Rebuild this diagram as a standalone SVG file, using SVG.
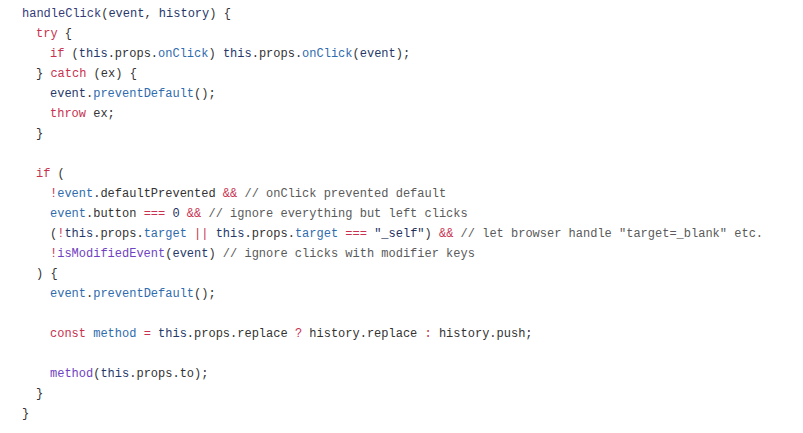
<svg xmlns="http://www.w3.org/2000/svg" width="803" height="433" viewBox="0 0 803 433">
<style>
text{font-family:"Liberation Mono","DejaVu Sans Mono",monospace;font-size:12px;fill:#333;white-space:pre}
.k{fill:#c8314f}.b{fill:#2f6cad}.n{fill:#26386a}.f{fill:#6f42c1}.c{fill:#5a5a5a}.s{fill:#1f3160}.fn{fill:#363a78}
</style>
<rect width="803" height="433" fill="#ffffff"/>
<g id="code" xml:space="preserve">
<text x="22" y="17"><tspan class="fn">handleClick</tspan>(<tspan class="n">event</tspan>, <tspan class="n">history</tspan>) {</text>
<text x="36" y="37"><tspan class="k">try</tspan> {</text>
<text x="50" y="57"><tspan class="k">if</tspan> (<tspan class="n">this</tspan>.props.<tspan class="b">onClick</tspan>) <tspan class="n">this</tspan>.props.<tspan class="b">onClick</tspan>(<tspan class="n">event</tspan>);</text>
<text x="36" y="77">} <tspan class="k">catch</tspan> (ex) {</text>
<text x="50" y="97"><tspan class="n">event</tspan>.<tspan class="b">preventDefault</tspan>();</text>
<text x="50" y="117"><tspan class="k">throw</tspan> ex;</text>
<text x="36" y="137">}</text>
<text x="36" y="177"><tspan class="k">if</tspan> (</text>
<text x="50" y="197"><tspan class="k">!</tspan><tspan class="b">event</tspan>.defaultPrevented <tspan class="k">&amp;&amp;</tspan> <tspan class="c">// onClick prevented default</tspan></text>
<text x="50" y="217"><tspan class="b">event</tspan>.button <tspan class="k">===</tspan> <tspan class="s">0</tspan> <tspan class="k">&amp;&amp;</tspan> <tspan class="c">// ignore everything but left clicks</tspan></text>
<text x="50" y="237">(<tspan class="k">!</tspan><tspan class="n">this</tspan>.props.<tspan class="b">target</tspan> <tspan class="k">||</tspan> <tspan class="n">this</tspan>.props.<tspan class="b">target</tspan> <tspan class="k">===</tspan> <tspan class="s">"_self"</tspan>) <tspan class="k">&amp;&amp;</tspan> <tspan class="c">// let browser handle "target=_blank" etc.</tspan></text>
<text x="50" y="257"><tspan class="k">!</tspan><tspan class="f">isModifiedEvent</tspan>(<tspan class="n">event</tspan>) <tspan class="c">// ignore clicks with modifier keys</tspan></text>
<text x="36" y="277">) {</text>
<text x="50" y="297"><tspan class="b">event</tspan>.<tspan class="b">preventDefault</tspan>();</text>
<text x="50" y="337"><tspan class="k">const</tspan> <tspan class="b">method</tspan> <tspan class="k">=</tspan> <tspan class="n">this</tspan>.props.replace <tspan class="k">?</tspan> history.replace <tspan class="k">:</tspan> history.push;</text>
<text x="50" y="377"><tspan class="f">method</tspan>(<tspan class="n">this</tspan>.props.to);</text>
<text x="36" y="397">}</text>
<text x="22" y="417">}</text>
</g>
</svg>
